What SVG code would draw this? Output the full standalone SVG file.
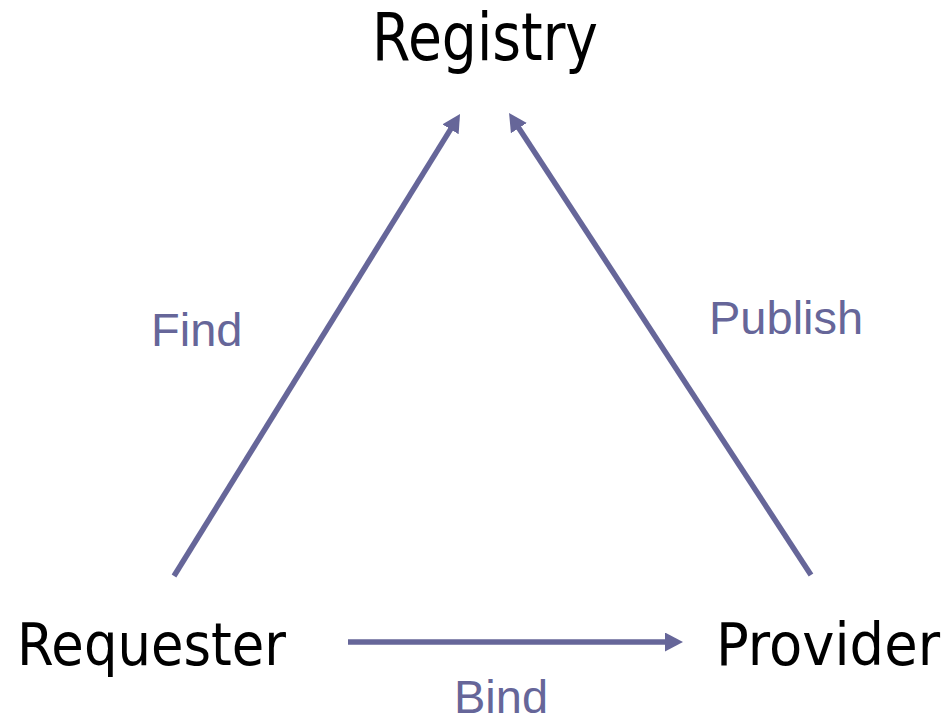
<svg xmlns="http://www.w3.org/2000/svg" width="951" height="718" viewBox="0 0 951 718">
  <style>
    .node { font-family: "DejaVu Sans", "Liberation Sans", sans-serif; fill: #000000; }
    .label { font-family: "Liberation Sans", Arial, sans-serif; font-size: 47px; fill: #666699; }
    .edge { stroke: #666699; stroke-width: 5.5; fill: none; }
  </style>
  <defs>
    <marker id="arrow" markerUnits="userSpaceOnUse" markerWidth="20" markerHeight="20" refX="2" refY="9.5" orient="auto">
      <path d="M0,0 L18,9.5 L0,19 Z" fill="#666699"/>
    </marker>
  </defs>
  <rect width="951" height="718" fill="#ffffff"/>

  <g id="connectors">
    <g id="edge-find">
      <line class="edge" x1="174" y1="576" x2="451.6" y2="127.6" marker-end="url(#arrow)"/>
      <text class="label" x="151" y="346">Find</text>
    </g>
    <g id="edge-publish">
      <line class="edge" x1="811" y1="575" x2="517.8" y2="126.4" marker-end="url(#arrow)"/>
      <text class="label" x="709" y="334">Publish</text>
    </g>
    <g id="edge-bind">
      <line class="edge" x1="348" y1="642" x2="667" y2="642" marker-end="url(#arrow)"/>
      <text class="label" x="454" y="713">Bind</text>
    </g>
  </g>

  <g id="node-registry">
    <text class="node" x="372" y="60" font-size="66" textLength="226" lengthAdjust="spacingAndGlyphs">Registry</text>
  </g>
  <g id="node-requester">
    <text class="node" x="17" y="665" font-size="58" textLength="269" lengthAdjust="spacingAndGlyphs">Requester</text>
  </g>
  <g id="node-provider">
    <text class="node" x="716" y="665" font-size="59" textLength="224" lengthAdjust="spacingAndGlyphs">Provider</text>
  </g>
</svg>
